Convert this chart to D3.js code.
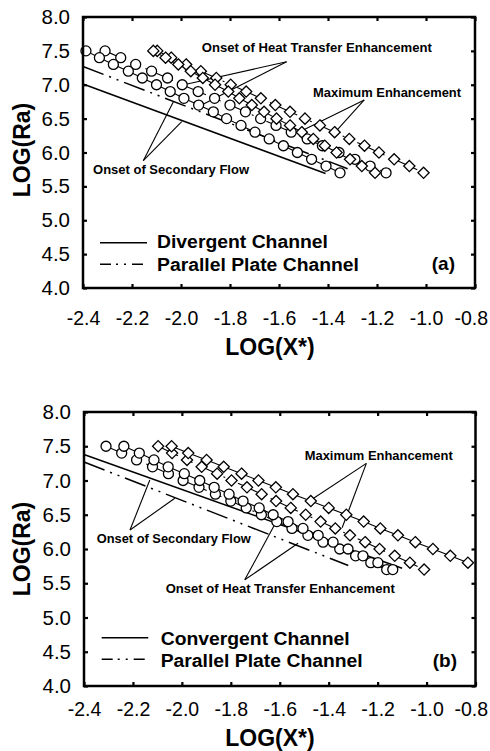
<!DOCTYPE html>
<html>
<head>
<meta charset="utf-8">
<script src="https://cdn.jsdelivr.net/npm/d3@7"></script>
<style>
  body { margin: 0; background: #fff; }
  svg { display: block; }
</style>
</head>
<body>
<svg id="chart" width="490" height="751"></svg>
<script>
// ---- data -------------------------------------------------------------
// LOG(Ra) levels at which the onset / maximum points were evaluated
const logRa = [7.5, 7.4, 7.3, 7.2, 7.1, 7.0, 6.9, 6.8, 6.7, 6.6, 6.5, 6.4, 6.3, 6.2, 6.1, 6.0, 5.9, 5.8, 5.7];

// axis ticks
const xTicks = [-2.4, -2.2, -2.0, -1.8, -1.6, -1.4, -1.2, -1.0, -0.8];
const yTicks = [4.0, 4.5, 5.0, 5.5, 6.0, 6.5, 7.0, 7.5, 8.0];

// parallel plate channel (shown in both panels)
const parallelOnsetX = [-2.310, -2.246, -2.185, -2.120, -2.055, -1.995, -1.930, -1.863, -1.800, -1.737, -1.675, -1.612, -1.550, -1.485, -1.423, -1.355, -1.290, -1.228, -1.163];
const parallelMaxX   = [-2.097, -2.040, -1.979, -1.919, -1.856, -1.797, -1.734, -1.674, -1.615, -1.555, -1.494, -1.433, -1.373, -1.313, -1.251, -1.192, -1.130, -1.068, -1.010];
const parallelSecX = [-2.40, -1.32];
const parallelSecY = [7.27, 5.76];

// divergent channel
const divergentOnsetX = [-2.388, -2.333, -2.276, -2.215, -2.158, -2.100, -2.044, -1.988, -1.928, -1.868, -1.814, -1.755, -1.698, -1.640, -1.582, -1.525, -1.467, -1.408, -1.351];
const divergentMaxX   = [-2.113, -2.063, -2.011, -1.960, -1.911, -1.861, -1.807, -1.762, -1.711, -1.661, -1.610, -1.555, -1.507, -1.460, -1.413, -1.365, -1.310, -1.262, -1.208];
const divergentSecX = [-2.40, -1.41];
const divergentSecY = [7.01, 5.69];

// convergent channel
const convergentOnsetX = [-2.237, -2.174, -2.114, -2.056, -1.990, -1.927, -1.868, -1.807, -1.750, -1.684, -1.627, -1.566, -1.505, -1.443, -1.382, -1.321, -1.260, -1.199, -1.138];
const convergentMaxX   = [-2.042, -1.974, -1.899, -1.829, -1.756, -1.687, -1.616, -1.546, -1.473, -1.400, -1.328, -1.257, -1.189, -1.117, -1.046, -0.974, -0.903, -0.831];
const convergentSecX = [-2.40, -1.10];
const convergentSecY = [7.38, 5.72];

// ---- helpers ------------------------------------------------------------
const zip = (xs, ys) => xs.map((x, i) => [x, ys[i]]);
const DASH_DOT = "22,6,2,6,2,6";
const LEGEND_DASH = "11,5,2,6,2,6";
const WIDTH = 490;

const svg = d3.select("#chart");

// narrow face for the numeric labels; fall back to a squeezed regular face
const probe = svg.append("text").attr("font-size", 40).text("0123456789");
probe.attr("font-family", "'Liberation Sans Narrow'");
const wNarrow = probe.node().getComputedTextLength();
probe.attr("font-family", "'Liberation Sans'");
const wRegular = probe.node().getComputedTextLength();
probe.remove();
const hasNarrow = wNarrow < wRegular * 0.95;
const NARROW = hasNarrow ? "'Liberation Sans Narrow', 'Arial Narrow', sans-serif" : "'Liberation Sans', Arial, sans-serif";
const squeeze = hasNarrow ? 1 : 0.82;

function narrowText(sel, x) {
  sel.attr("font-family", NARROW)
     .attr("x", x / squeeze)
     .attr("transform", `scale(${squeeze},1)`);
}

function diamondPath(r) {
  return `M0,${-r}L${r},0L0,${r}L${-r},0Z`;
}

const panels = [
  {
    box: { left: 83, right: 475, top: 17, bottom: 288 },
    xLabelPad: 23.5, xTitleOffset: 67, yTitleY: 150,
    secondary: [
      { xs: divergentSecX, ys: divergentSecY, dash: null },
      { xs: parallelSecX, ys: parallelSecY, dash: DASH_DOT }
    ],
    series: [
      { xs: parallelOnsetX, shape: "circle", dash: DASH_DOT },
      { xs: divergentOnsetX, shape: "circle", dash: null },
      { xs: parallelMaxX, shape: "diamond", dash: DASH_DOT },
      { xs: divergentMaxX, shape: "diamond", dash: null }
    ],
    notes: [
      { text: "Onset of Heat Transfer Enhancement", at: [-1.915, 7.48], width: 230,
        from: [-1.569, 7.34], to: [[-1.988, 7.0], [-1.916, 6.70]] },
      { text: "Maximum Enhancement", at: [-1.461, 6.82], width: 148,
        from: [-1.252, 6.775], to: [[-1.503, 6.33], [-1.366, 6.32]] },
      { text: "Onset of Secondary Flow", at: [-2.359, 5.683], width: 156,
        from: [-2.154, 5.879], to: [[-2.031, 6.75], [-1.997, 6.455]] }
    ],
    legend: { x1: 100, x2: 147, tx: 157,
      rows: [
        { label: "Divergent Channel", dash: null, lineDy: -45.3, textDy: -39.7, width: 171 },
        { label: "Parallel Plate Channel", dash: LEGEND_DASH, lineDy: -23.7, textDy: -17.3, width: 202 }
      ] },
    tag: { text: "(a)", x: 455, dy: -18 }
  },
  {
    box: { left: 84, right: 475.5, top: 412, bottom: 686 },
    xLabelPad: 15.7, xTitleOffset: 59.5, yTitleY: 549,
    secondary: [
      { xs: convergentSecX, ys: convergentSecY, dash: null },
      { xs: parallelSecX, ys: parallelSecY, dash: DASH_DOT }
    ],
    series: [
      { xs: parallelOnsetX, shape: "circle", dash: DASH_DOT },
      { xs: convergentOnsetX, shape: "circle", dash: null },
      { xs: parallelMaxX, shape: "diamond", dash: DASH_DOT },
      { xs: convergentMaxX, shape: "diamond", dash: null }
    ],
    notes: [
      { text: "Maximum Enhancement", at: [-1.498, 7.30], width: 148,
        from: [-1.246, 7.25], to: [[-1.471, 6.72], [-1.345, 6.31]] },
      { text: "Onset of Secondary Flow", at: [-2.348, 6.083], width: 154,
        from: [-2.212, 6.277], to: [[-2.131, 7.007], [-2.029, 6.74]] },
      { text: "Onset of Heat Transfer Enhancement", at: [-2.066, 5.358], width: 229,
        from: [-1.743, 5.55], to: [[-1.614, 6.40], [-1.525, 6.083]] }
    ],
    legend: { x1: 101.7, x2: 148.3, tx: 160.7,
      rows: [
        { label: "Convergent Channel", dash: null, lineDy: -48.3, textDy: -41, width: 189 },
        { label: "Parallel Plate Channel", dash: LEGEND_DASH, lineDy: -26.7, textDy: -18.7, width: 202 }
      ] },
    tag: { text: "(b)", x: 457, dy: -19 }
  }
];

function drawPanel(p) {
  const b = p.box;
  const x = d3.scaleLinear().domain([-2.4, -0.8]).range([b.left, b.right]);
  const y = d3.scaleLinear().domain([4, 8]).range([b.bottom, b.top]);
  const g = svg.append("g");
  const fmt = d => d.toFixed(1);

  // axes with inward ticks on all four sides
  const tick = 4;
  const gx = g.append("g").attr("transform", `translate(0,${b.bottom})`)
    .call(d3.axisBottom(x).tickValues(xTicks).tickSize(-tick).tickPadding(p.xLabelPad).tickFormat(fmt));
  const gy = g.append("g").attr("transform", `translate(${b.left},0)`)
    .call(d3.axisLeft(y).tickValues(yTicks).tickSize(-tick).tickPadding(13).tickFormat(fmt));
  const gt = g.append("g").attr("transform", `translate(0,${b.top})`)
    .call(d3.axisTop(x).tickValues(xTicks).tickSize(-tick).tickFormat(""));
  const gr = g.append("g").attr("transform", `translate(${b.right},0)`)
    .call(d3.axisRight(y).tickValues(yTicks).tickSize(-tick).tickFormat(""));
  [gx, gy, gt, gr].forEach(a => {
    a.select(".domain").remove();
    a.selectAll(".tick line").attr("stroke", "#000").attr("stroke-width", 2.2);
  });
  gx.selectAll(".tick text").attr("font-size", 19.5).attr("fill", "#000")
    .each(function (d) {
      const t = d3.select(this);
      narrowText(t, 0);
      // keep the rightmost label inside the page
      const half = this.getComputedTextLength() * squeeze / 2;
      const over = x(d) + half - (WIDTH - 2.5);
      if (over > 0) t.attr("x", -over / squeeze);
    });
  gy.selectAll(".tick text").attr("font-size", 20.5).attr("fill", "#000")
    .each(function () { narrowText(d3.select(this), -13); });

  // axis titles
  g.append("text")
    .attr("transform", `translate(270,${b.bottom + p.xTitleOffset}) scale(${squeeze},1)`)
    .attr("text-anchor", "middle").attr("font-family", NARROW)
    .attr("font-weight", "bold").attr("font-size", 23).text("LOG(X*)");
  g.append("text")
    .attr("transform", `translate(30,${p.yTitleY}) rotate(-90) scale(${squeeze},1)`)
    .attr("text-anchor", "middle").attr("font-family", NARROW)
    .attr("font-weight", "bold").attr("font-size", 23).text("LOG(Ra)");

  const line = d3.line().x(d => x(d[0])).y(d => y(d[1]));

  // onset of secondary flow
  p.secondary.forEach(s => {
    g.append("path").attr("d", line(zip(s.xs, s.ys)))
      .attr("fill", "none").attr("stroke", "#000").attr("stroke-width", 1.5)
      .attr("stroke-dasharray", s.dash);
  });

  // annotation leaders (drawn before markers so symbols sit on top)
  const notes = g.append("g");
  p.notes.forEach(n => {
    n.to.forEach(t => {
      notes.append("line")
        .attr("x1", x(n.from[0])).attr("y1", y(n.from[1]))
        .attr("x2", x(t[0])).attr("y2", y(t[1]))
        .attr("stroke", "#000").attr("stroke-width", 1.1);
    });
    notes.append("text")
      .attr("x", x(n.at[0])).attr("y", y(n.at[1]))
      .attr("font-family", "'Liberation Sans', Arial, sans-serif")
      .attr("font-weight", "bold").attr("font-size", 13)
      .attr("textLength", n.width).attr("lengthAdjust", "spacingAndGlyphs")
      .text(n.text);
  });

  // connecting lines, then symbols
  p.series.forEach(s => {
    g.append("path").attr("d", line(zip(s.xs, logRa)))
      .attr("fill", "none").attr("stroke", "#000").attr("stroke-width", 1.1)
      .attr("stroke-dasharray", s.dash);
  });
  p.series.forEach(s => {
    const pts = zip(s.xs, logRa);
    const sym = g.append("g").selectAll("path").data(pts).join("path")
      .attr("transform", d => `translate(${x(d[0])},${y(d[1])})`)
      .attr("fill", "#fff").attr("stroke", "#000").attr("stroke-width", 1.3);
    if (s.shape === "circle") {
      sym.attr("d", d3.symbol(d3.symbolCircle, Math.PI * 25)());
    } else {
      sym.attr("d", diamondPath(5.6));
    }
  });

  // legend
  const lg = p.legend;
  lg.rows.forEach(r => {
    g.append("line")
      .attr("x1", lg.x1).attr("x2", lg.x2)
      .attr("y1", b.bottom + r.lineDy).attr("y2", b.bottom + r.lineDy)
      .attr("stroke", "#000").attr("stroke-width", 1.6)
      .attr("stroke-dasharray", r.dash);
    g.append("text")
      .attr("x", lg.tx).attr("y", b.bottom + r.textDy)
      .attr("font-family", "'Liberation Sans', Arial, sans-serif")
      .attr("font-weight", "bold").attr("font-size", 17.5)
      .attr("textLength", r.width).attr("lengthAdjust", "spacingAndGlyphs")
      .text(r.label);
  });
  g.append("text")
    .attr("x", p.tag.x).attr("y", b.bottom + p.tag.dy)
    .attr("text-anchor", "end")
    .attr("font-family", "'Liberation Sans', Arial, sans-serif")
    .attr("font-weight", "bold").attr("font-size", 19)
    .text(p.tag.text);

  // frame
  g.append("rect")
    .attr("x", b.left).attr("y", b.top)
    .attr("width", b.right - b.left).attr("height", b.bottom - b.top)
    .attr("fill", "none").attr("stroke", "#000").attr("stroke-width", 2.5);
}

panels.forEach(drawPanel);
</script>
</body>
</html>
